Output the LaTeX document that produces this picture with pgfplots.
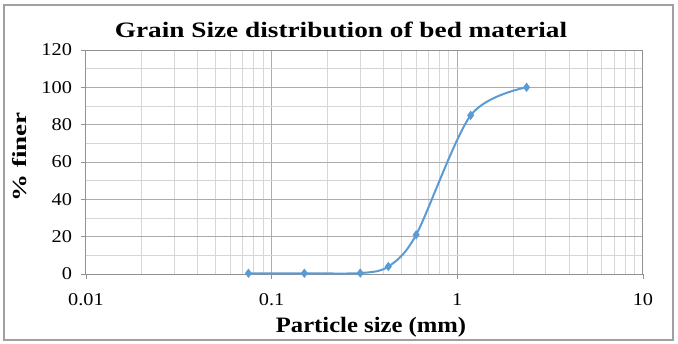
\documentclass[border=0pt]{standalone}
\usepackage{graphicx}
\usepackage{pgfplots}
\pgfplotsset{compat=1.18}
\usepackage{fontspec}
\setmainfont{Liberation Serif}
\definecolor{lineblue}{RGB}{91,155,213}
\definecolor{majgray}{RGB}{172,172,172}
\definecolor{mingray}{RGB}{214,214,214}
\definecolor{axgray}{RGB}{145,145,145}
\definecolor{framegray}{RGB}{160,160,160}
\newcommand{\tk}[1]{\scalebox{1.13}[1]{#1}}
\begin{document}
\begin{tikzpicture}[x=0.75pt,y=0.75pt]
% bounding box: image 678x343 px, axis origin at px (86,274)
\useasboundingbox (-86,-69) rectangle (592,274);
\draw[framegray,line width=0.9pt] (-82,-66) rectangle (587,269);
\begin{axis}[
  at={(0,0)}, anchor=south west,
  scale only axis,
  width=417.75pt, height=168pt,
  xmode=log, xmin=0.01, xmax=10,
  ymin=0, ymax=120,
  ytick={0,20,...,120},
  minor ytick={10,30,...,110},
  xtick={0.01,0.1,1,10},
  minor xtick={0.02,0.03,0.04,0.05,0.06,0.07,0.08,0.09,0.2,0.3,0.4,0.5,0.6,0.7,0.8,0.9,2,3,4,5,6,7,8,9},
  xticklabels={\tk{0.01},\tk{0.1},\tk{1},\tk{10}},
  yticklabels={\tk{0},\tk{20},\tk{40},\tk{60},\tk{80},\tk{100},\tk{120}},
  grid=both,
  major grid style={majgray,line width=0.75pt},
  minor grid style={mingray,line width=0.75pt},
  axis line style={draw=axgray,line width=0.75pt},
  tick style={axgray,line width=0.6pt},
  major tick length=4pt,
  minor tick length=0pt,
  tick align=outside,
  xtick pos=bottom, ytick pos=left,
  ticklabel style={font=\fontsize{13.5}{15}\selectfont},
  xticklabel style={yshift=-7pt},
  yticklabel style={xshift=-3pt},
  clip=false,
]
\addplot[lineblue, line width=1.5pt, smooth, tension=0.5,
  mark=diamond*, mark size=2.3pt, mark options={fill=lineblue,draw=lineblue}]
  coordinates {
  (0.075,0.4) (0.15,0.4) (0.3,0.5) (0.425,4) (0.6,21) (1.18,85) (2.36,100)
  };
\end{axis}
\node[font=\bfseries\fontsize{16.5}{18}\selectfont, anchor=base] at (255,236) {\scalebox{1.24}[1]{Grain Size distribution of bed material}};
\node[font=\bfseries\fontsize{16.5}{18}\selectfont, anchor=base] at (285,-58) {\scalebox{1.12}[1]{Particle size (mm)}};
\node[font=\bfseries\fontsize{15}{17}\selectfont, anchor=base, rotate=90] at (-59,117) {\scalebox{1.35}[1]{\% finer}};
\end{tikzpicture}
\end{document}
